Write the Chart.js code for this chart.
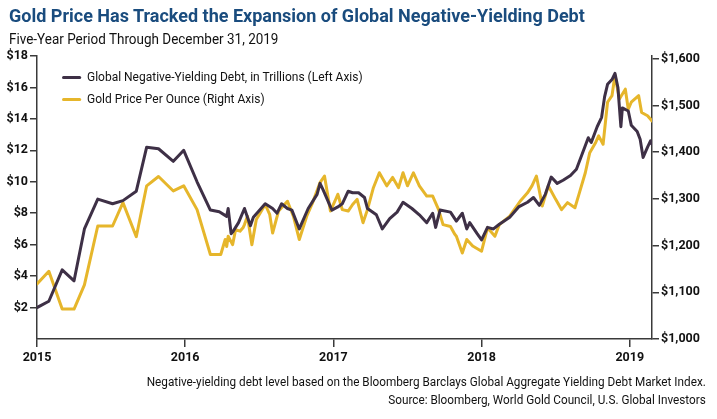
<!DOCTYPE html>
<html>
<head>
<meta charset="utf-8">
<script src="https://cdn.jsdelivr.net/npm/chart.js@4.4.1/dist/chart.umd.min.js"></script>
<style>
  html, body { margin:0; padding:0; background:#fff; }
  #wrap { position:relative; width:717px; height:419px; overflow:hidden; font-family:"Roboto",sans-serif; }
  #c { position:absolute; left:0; top:0; }
  .title { position:absolute; left:9px; top:5px; font-size:18px; font-weight:bold; color:#1a4c7e; white-space:nowrap; }
  .sub { position:absolute; left:9px; top:30px; font-size:15.5px; color:#111; white-space:nowrap; transform:scaleX(0.87); transform-origin:left top; }
  .leg { position:absolute; left:62px; font-size:12.5px; color:#111; white-space:nowrap; transform:scaleX(0.96); transform-origin:left top; }
  .leg span.sw { display:inline-block; width:20px; height:3px; vertical-align:middle; margin-right:6px; border-radius:2px; }
  .foot { position:absolute; right:11px; font-size:12.5px; color:#111; white-space:nowrap; text-align:right; transform:scaleX(0.94); transform-origin:right top; }
</style>
</head>
<body>
<div id="wrap">
  <canvas id="c" width="717" height="419"></canvas>
  <div class="title">Gold Price Has Tracked the Expansion of Global Negative-Yielding Debt</div>
  <div class="sub">Five-Year Period Through December 31, 2019</div>
  <div class="leg" style="top:69px"><span class="sw" style="background:#3e3046"></span>Global Negative-Yielding Debt, in Trillions (Left Axis)</div>
  <div class="leg" style="top:91px"><span class="sw" style="background:#e6b62b"></span>Gold Price Per Ounce (Right Axis)</div>
  <div class="foot" style="top:374px">Negative-yielding debt level based on the Bloomberg Barclays Global Aggregate Yielding Debt Market Index.</div>
  <div class="foot" style="top:392px">Source: Bloomberg, World Gold Council, U.S. Global Investors</div>
</div>
<script>
// Year positions (fractional years) and values
const debtX = [2015.00,2015.08,2015.17,2015.25,2015.32,2015.41,2015.51,2015.58,2015.67,2015.74,2015.82,2015.92,2015.99,2016.08,2016.17,2016.23,2016.28,2016.29,2016.31,2016.32,2016.36,2016.40,2016.44,2016.46,2016.54,2016.59,2016.62,2016.65,2016.69,2016.72,2016.77,2016.83,2016.89,2016.91,2016.93,2016.99,2017.03,2017.06,2017.10,2017.13,2017.17,2017.21,2017.23,2017.29,2017.33,2017.38,2017.43,2017.47,2017.53,2017.58,2017.63,2017.67,2017.69,2017.72,2017.79,2017.83,2017.87,2017.90,2017.92,2017.97,2018.00,2018.04,2018.08,2018.12,2018.19,2018.25,2018.31,2018.35,2018.39,2018.43,2018.47,2018.51,2018.55,2018.60,2018.64,2018.68,2018.72,2018.74,2018.78,2018.81,2018.83,2018.85,2018.88,2018.90,2018.92,2018.94,2018.95,2018.99,2019.01,2019.05,2019.07,2019.09,2019.12,2019.14,2019.15];
const debtValues = [2.0,2.4,4.4,3.7,7.0,8.9,8.6,8.8,9.4,12.2,12.1,11.3,12.0,10.0,8.2,8.1,7.8,8.3,6.7,6.8,7.4,8.3,7.2,7.75,8.6,8.3,8.0,8.6,8.3,8.2,7.0,8.3,9.2,9.9,9.5,8.2,8.4,8.6,9.4,9.3,9.3,9.0,8.3,7.9,7.0,7.65,8.07,8.7,8.3,7.9,7.4,8.0,7.1,8.2,8.07,7.5,8.0,7.0,7.4,6.7,6.3,7.1,7.0,7.3,7.75,8.4,8.7,9.0,8.5,9.2,10.3,9.9,10.1,10.4,10.8,11.8,12.8,12.5,13.5,14.1,15.4,16.2,16.5,16.9,16.0,13.5,14.7,14.5,13.6,13.2,12.7,11.55,12.2,12.6,12.4];

const goldX = [2015.00,2015.08,2015.17,2015.25,2015.32,2015.41,2015.51,2015.58,2015.67,2015.74,2015.82,2015.92,2015.99,2016.08,2016.17,2016.24,2016.27,2016.28,2016.29,2016.32,2016.34,2016.37,2016.39,2016.40,2016.42,2016.45,2016.48,2016.54,2016.57,2016.59,2016.63,2016.69,2016.73,2016.77,2016.82,2016.86,2016.91,2016.94,2016.98,2017.01,2017.03,2017.06,2017.10,2017.13,2017.16,2017.20,2017.23,2017.27,2017.31,2017.36,2017.40,2017.44,2017.47,2017.50,2017.54,2017.58,2017.63,2017.67,2017.71,2017.74,2017.79,2017.82,2017.83,2017.87,2017.90,2017.94,2018.00,2018.04,2018.09,2018.12,2018.19,2018.26,2018.31,2018.34,2018.37,2018.41,2018.45,2018.50,2018.54,2018.58,2018.63,2018.66,2018.70,2018.73,2018.77,2018.79,2018.82,2018.85,2018.88,2018.90,2018.93,2018.97,2018.99,2019.01,2019.06,2019.08,2019.12,2019.15];
const goldValues = [1118,1145,1064,1064,1116,1242,1242,1292,1219,1328,1348,1317,1328,1277,1181,1181,1213,1198,1220,1202,1234,1231,1238,1245,1263,1202,1256,1288,1267,1227,1274,1295,1263,1213,1263,1292,1335,1349,1274,1295,1310,1277,1274,1288,1299,1249,1277,1324,1356,1328,1346,1324,1356,1328,1356,1328,1306,1306,1277,1245,1241,1224,1220,1184,1213,1199,1188,1238,1220,1245,1263,1295,1313,1328,1349,1285,1328,1299,1277,1292,1281,1313,1356,1399,1421,1435,1417,1507,1521,1565,1514,1535,1492,1507,1521,1485,1478,1467];

const yearTicks = [2015, 2016, 2017, 2018, 2019];
const debtTicks = [2, 4, 6, 8, 10, 12, 14, 16, 18];
const goldTicks = [1000, 1100, 1200, 1300, 1400, 1500, 1600];
const seriesNames = ["Global Negative-Yielding Debt, in Trillions (Left Axis)", "Gold Price Per Ounce (Right Axis)"];

const DEBT_COLOR = '#3e3046';
const GOLD_COLOR = '#e6b62b';
const AXIS_COLOR = '#3a3a3a';
const tickFont = { family: '"Roboto",sans-serif', size: 12.5, weight: 'bold' };

const toPts = (xs, ys) => xs.map((x, i) => ({ x: x, y: ys[i] }));

new Chart(document.getElementById('c'), {
  type: 'line',
  data: {
    datasets: [
      { label: seriesNames[0], data: toPts(debtX, debtValues), yAxisID: 'y', borderColor: DEBT_COLOR, borderWidth: 3, pointRadius: 0, tension: 0, borderJoinStyle: 'round', borderCapStyle: 'round' },
      { label: seriesNames[1], data: toPts(goldX, goldValues), yAxisID: 'y1', borderColor: GOLD_COLOR, borderWidth: 3, pointRadius: 0, tension: 0, borderJoinStyle: 'round', borderCapStyle: 'round' }
    ]
  },
  options: {
    responsive: false,
    animation: false,
    layout: { padding: { top: 56, left: 0, right: 0, bottom: 0 } },
    plugins: { legend: { display: false }, tooltip: { enabled: false } },
    scales: {
      x: {
        type: 'linear', min: 2015, max: 2019.15,
        afterBuildTicks: s => { s.ticks = yearTicks.map(v => ({ value: v })); },
        afterFit: s => { s.height = 80; },
        ticks: { callback: v => String(v), font: tickFont, color: '#111', padding: 3, maxRotation: 0 },
        grid: { drawOnChartArea: false, tickLength: 8, color: AXIS_COLOR, lineWidth: 1.5 },
        border: { display: true, color: AXIS_COLOR, width: 1.5 }
      },
      y: {
        position: 'left', min: 0, max: 18,
        afterBuildTicks: s => { s.ticks = debtTicks.map(v => ({ value: v })); },
        afterFit: s => { s.width = 37; },
        ticks: { callback: v => '$' + v, font: tickFont, color: '#111', padding: 2 },
        grid: { drawOnChartArea: false, tickLength: 7, color: AXIS_COLOR, lineWidth: 1.5 },
        border: { display: true, color: AXIS_COLOR, width: 1.5 }
      },
      y1: {
        position: 'right', min: 1000, max: 1606,
        afterBuildTicks: s => { s.ticks = goldTicks.map(v => ({ value: v })); },
        afterFit: s => { s.width = 65; },
        ticks: { callback: v => '$' + v.toLocaleString('en-US'), font: tickFont, color: '#111', padding: 2 },
        grid: { drawOnChartArea: false, tickLength: 7, color: AXIS_COLOR, lineWidth: 1.5 },
        border: { display: true, color: AXIS_COLOR, width: 1.5 }
      }
    }
  }
});
</script>
</body>
</html>
